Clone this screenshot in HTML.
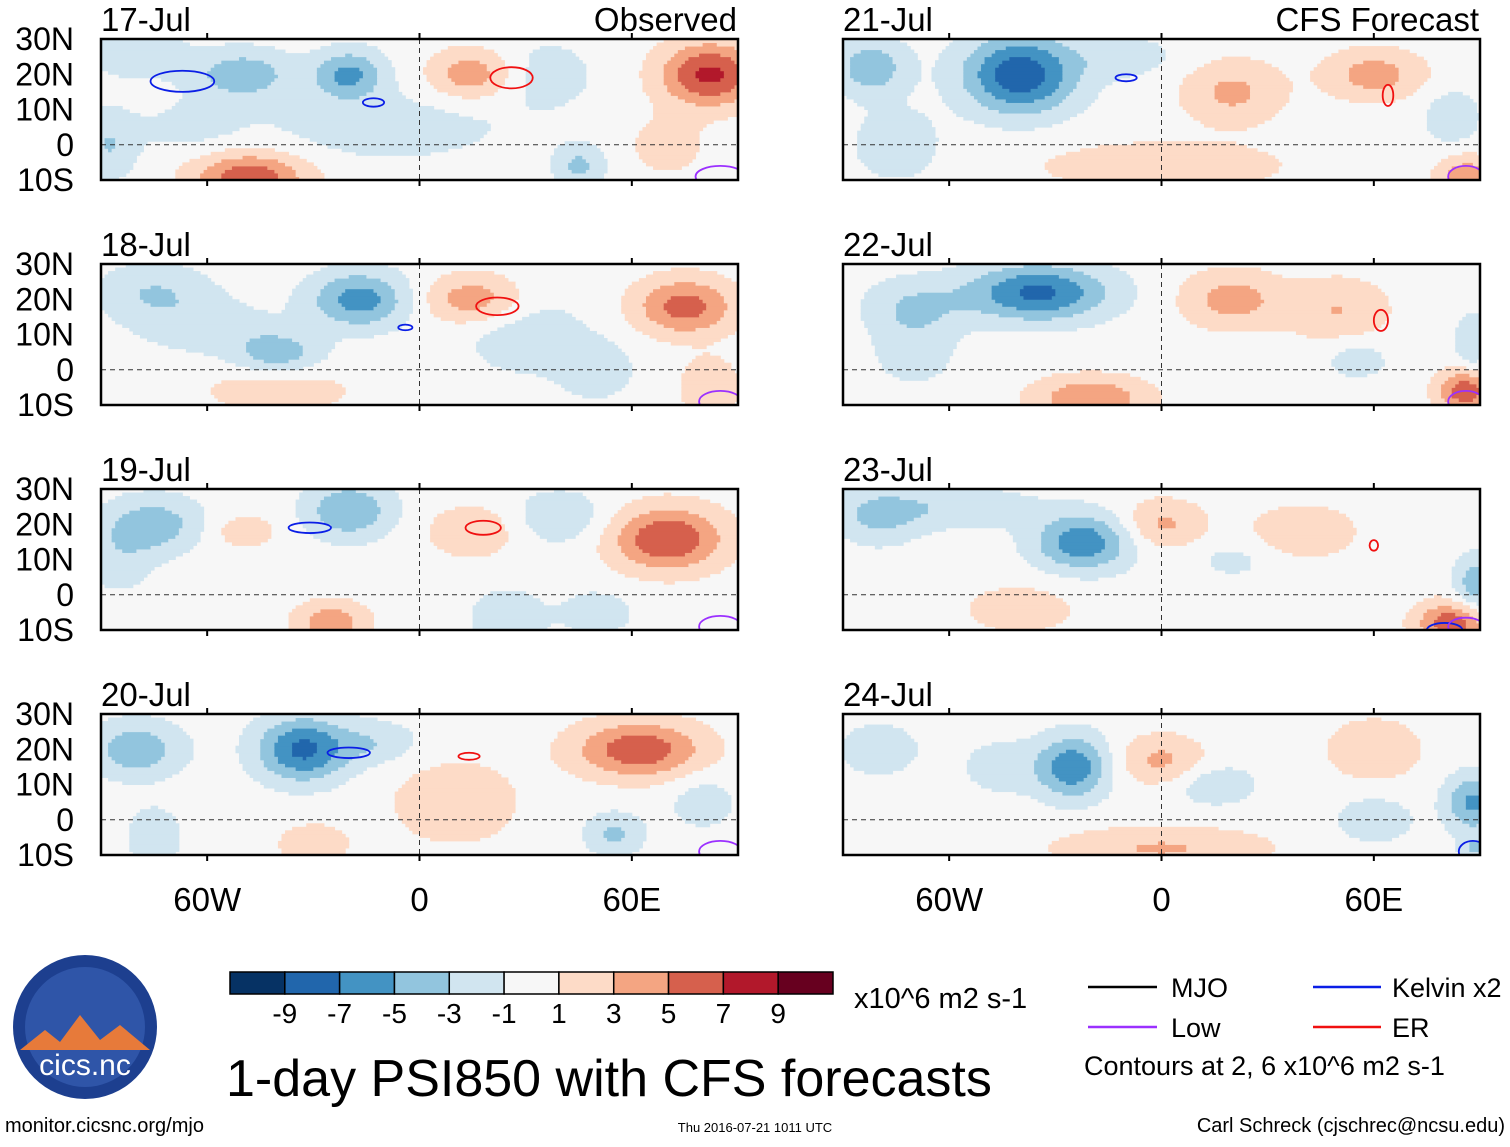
<!DOCTYPE html>
<html><head><meta charset="utf-8">
<style>
body{margin:0;background:#fff;}
svg text{font-family:"Liberation Sans",sans-serif;fill:#000;}
</style></head>
<body>
<svg id="fig" width="1510" height="1142" viewBox="0 0 1510 1142" xmlns="http://www.w3.org/2000/svg">
<defs>
<clipPath id="c0"><rect x="101" y="39" width="637" height="141"/></clipPath>
<clipPath id="c1"><rect x="101" y="264" width="637" height="141"/></clipPath>
<clipPath id="c2"><rect x="101" y="489" width="637" height="141"/></clipPath>
<clipPath id="c3"><rect x="101" y="714" width="637" height="141"/></clipPath>
<clipPath id="c4"><rect x="843" y="39" width="637" height="141"/></clipPath>
<clipPath id="c5"><rect x="843" y="264" width="637" height="141"/></clipPath>
<clipPath id="c6"><rect x="843" y="489" width="637" height="141"/></clipPath>
<clipPath id="c7"><rect x="843" y="714" width="637" height="141"/></clipPath>
</defs>
<g id="panels"></g>
<g id="labels"></g>
<g id="cbar"></g>
<g>
<text x="101" y="31" font-size="33">17-Jul</text>
<text x="737" y="31" font-size="33" text-anchor="end">Observed</text>
<text x="843" y="31" font-size="33">21-Jul</text>
<text x="1479" y="31" font-size="33" text-anchor="end">CFS Forecast</text>
<text x="101" y="256" font-size="33">18-Jul</text>
<text x="843" y="256" font-size="33">22-Jul</text>
<text x="101" y="481" font-size="33">19-Jul</text>
<text x="843" y="481" font-size="33">23-Jul</text>
<text x="101" y="706" font-size="33">20-Jul</text>
<text x="843" y="706" font-size="33">24-Jul</text>
<text x="854" y="1008" font-size="29">x10^6 m2 s-1</text>
<text x="226" y="1096" font-size="52">1-day PSI850 with CFS forecasts</text>
<text x="5" y="1132" font-size="20">monitor.cicsnc.org/mjo</text>
<text x="755" y="1132" font-size="13" text-anchor="middle">Thu 2016-07-21 1011 UTC</text>
<text x="1505" y="1132" font-size="20" text-anchor="end">Carl Schreck (cjschrec@ncsu.edu)</text>
</g>
<g>
<line x1="1088" y1="987" x2="1157" y2="987" stroke="#000" stroke-width="2.5"/>
<text x="1171" y="997" font-size="27">MJO</text>
<line x1="1313" y1="987" x2="1381" y2="987" stroke="#0a1ee6" stroke-width="2.5"/>
<text x="1392" y="997" font-size="27">Kelvin x2</text>
<line x1="1088" y1="1027" x2="1157" y2="1027" stroke="#9b30ff" stroke-width="2.5"/>
<text x="1171" y="1037" font-size="27">Low</text>
<line x1="1313" y1="1027" x2="1381" y2="1027" stroke="#f01010" stroke-width="2.5"/>
<text x="1392" y="1037" font-size="27">ER</text>
<text x="1084" y="1075" font-size="27">Contours at 2, 6 x10^6 m2 s-1</text>
</g>
<g>
<circle cx="85" cy="1027" r="72" fill="#1d3f8f"/>
<circle cx="85" cy="1027" r="60" fill="#2f55a8"/>
<path d="M20 1050 L45 1030 L60 1042 L80 1015 L100 1040 L120 1025 L150 1050 Z" fill="#e77a3a"/>
<text x="85" y="1075" font-size="30" text-anchor="middle" style="fill:#fff">cics.nc</text>
</g>
</svg>
<script>
const dates=['17-Jul','18-Jul','19-Jul','20-Jul','21-Jul','22-Jul','23-Jul','24-Jul'];
const levels=[-9,-7,-5,-3,-1,1,3,5,7,9];
const levelLabels=['-9','-7','-5','-3','-1','1','3','5','7','9'];
const colors=['#063264','#2166ac','#4393c3','#92c5de','#d1e5f0','#f7f7f7','#fddbc7','#f4a582','#d6604d','#b2182b','#67001f'];
const lonTicks=[-60,0,60];
const lonTickLabels=['60W','0','60E'];
const latTicks=[30,20,10,0,-10];
const latTickLabels=['30N','20N','10N','0','10S'];
// blobs: [lon, lat, halfwidth lon, halfwidth lat, amplitude]
const blobs17=[[-50,20,14,7,-4.5],[-20,20,10,7,-5.5],[15,20,12,7,4.5],[82,20,14,9,7.5],[-48,-9,16,7,6.5],[45,-6,7,6,-3.5],[-88,0,8,10,-3],[-10,5,35,10,-2],[70,0,10,8,2.2],[-80,26,14,7,-2.5],[-65,5,15,8,-1.5],[35,20,15,10,-2]];
const blobs18=[[-17,20,14,8,-6],[-40,5,12,6,-4],[-75,22,16,8,-3],[15,20,14,7,4.5],[75,18,14,8,6],[50,0,10,8,-2.5],[-40,-6,20,6,2.5],[82,-5,8,8,3],[30,10,18,12,-2.2],[-60,12,20,8,-2]];
const blobs19=[[-20,24,12,8,-5],[-75,20,14,8,-4.2],[70,16,16,9,7],[-25,-8,10,6,4.5],[15,18,12,7,3],[25,-7,10,8,-3],[50,-5,10,6,-2.5],[-50,18,10,5,2.2],[40,22,14,8,-2.5],[-85,10,10,10,-2]];
const blobs20=[[-33,20,13,9,-7.5],[-80,20,13,8,-4.5],[62,20,18,8,6.5],[10,5,18,12,2.5],[55,-4,8,6,-3.5],[-75,-5,7,8,-3],[-30,-7,10,6,2.5],[-12,22,12,6,-2.5],[80,5,10,8,-2]];
const blobs21=[[-40,20,16,11,-8.5],[-82,22,10,8,-4.5],[60,20,14,7,4],[20,15,14,9,3.5],[0,-6,35,7,2.5],[82,8,8,8,-2.5],[86,-9,8,6,4.5],[-75,0,12,10,-2.5],[-10,25,15,6,-2]];
const blobs22=[[-35,22,20,8,-7.5],[20,20,14,8,4],[50,17,14,9,3],[-20,-8,16,6,5],[86,-6,8,6,6.5],[55,3,10,6,-2],[-70,18,14,8,-3],[-70,5,12,10,-2],[88,8,5,8,-3]];
const blobs23=[[-22,15,14,8,-6.5],[-80,22,12,8,-3],[0,20,12,7,3.5],[40,18,14,7,3],[82,-8,10,6,6.5],[89,3,6,8,-4.5],[-40,-4,16,7,2.2],[-60,25,25,6,-2.5],[20,10,12,6,-1.5]];
const blobs24=[[-25,15,10,9,-6.5],[0,17,12,7,3.5],[15,10,12,6,-2.5],[0,-8,30,6,3.2],[88,5,8,8,-5.5],[60,20,14,9,2.5],[-80,20,12,8,-2.2],[60,0,10,6,-3],[89,-8,5,4,-3],[-45,15,12,8,-2]];
const panelBlobs=[blobs17,blobs18,blobs19,blobs20,blobs21,blobs22,blobs23,blobs24];
// contours: [lon, lat, rlon, rlat, type]
const contours=[
 [[-67,18,9,3,'k'],[-13,12,3,1.2,'k'],[26,19,6,3,'e'],[85,-9,7,3,'l']],
 [[-4,12,2,0.8,'k'],[22,18,6,2.5,'e'],[85,-9,6,3,'l']],
 [[-31,19,6,1.5,'k'],[18,19,5,2,'e'],[85,-9,6,3,'l']],
 [[-20,19,6,1.5,'k'],[14,18,3,1,'e'],[85,-9,6,3,'l']],
 [[-10,19,3,1,'k'],[64,14,1.5,3,'e'],[86,-9,5,3,'l']],
 [[62,14,2,3,'e'],[86,-9,5,3,'l']],
 [[60,14,1.2,1.5,'e'],[80,-10,5,2,'k'],[86,-9,5,2.5,'l']],
 [[88,-9,4,3,'k']]
];
const ctColors={k:'#0a1ee6',e:'#f01010',l:'#9b30ff'};
const colX=[101,843], rowY=[39,264,489,714], W=637, H=141;
const NS='http://www.w3.org/2000/svg';
function mk(t,a,p){const e=document.createElementNS(NS,t);for(const k in a)e.setAttribute(k,a[k]);p.appendChild(e);return e;}
function xScale(p,lon){return colX[Math.floor(p/4)]+(lon+90)/180*W;}
function yScale(p,lat){return rowY[p%4]+(30-lat)/40*H;}
function field(b,lon,lat){let v=0;for(const q of b){const dx=(lon-q[0])/q[2],dy=(lat-q[1])/q[3];v+=q[4]*Math.exp(-(dx*dx+dy*dy));}return v;}
function colorFor(v){let i=0;while(i<levels.length&&v>=levels[i])i++;return colors[i];}
const gP=document.getElementById('panels');
for(let p=0;p<8;p++){
 const g=mk('g',{'clip-path':'url(#c'+p+')'},gP);
 
 
 mk('rect',{x:xScale(p,-90),y:yScale(p,30),width:W,height:H,fill:'#f7f7f7'},g);
 const step=1;
 for(let lat=-10;lat<30;lat+=step){
  let run=null,x0=0;
  for(let lon=-90;lon<=90;lon+=step){
   const c=lon<90?colorFor(field(panelBlobs[p],lon+step/2,lat+step/2)):null;
   if(c!==run){
    if(run&&run!=='#f7f7f7'){const y0=yScale(p,lat+step),y1=yScale(p,lat);mk('rect',{x:x0,y:y0,width:xScale(p,lon)-x0+0.5,height:y1-y0+0.5,fill:run},g);}
    run=c;x0=xScale(p,lon);
   }
  }
 }
 const eq=mk('line',{x1:xScale(p,-90),x2:xScale(p,90),y1:yScale(p,0),y2:yScale(p,0),stroke:'#333','stroke-dasharray':'5,4','stroke-width':1},g);
 
 
 const pm=mk('line',{x1:xScale(p,0),x2:xScale(p,0),y1:yScale(p,30),y2:yScale(p,-10),stroke:'#333','stroke-dasharray':'5,4','stroke-width':1},g);
 
 
 for(const c of contours[p]){
  const e=mk('ellipse',{cx:xScale(p,c[0]),cy:yScale(p,c[1]),rx:c[2]*W/180,ry:c[3]*H/40,fill:'none',stroke:ctColors[c[4]],'stroke-width':1.8},g);
  
  
 }
 const fr=mk('rect',{x:xScale(p,-90),y:yScale(p,30),width:W,height:H,fill:'none',stroke:'#000','stroke-width':2.5},gP);
 
 
 for(const t of lonTicks){
  mk('line',{x1:xScale(p,t),x2:xScale(p,t),y1:yScale(p,-10),y2:yScale(p,-10)+6,stroke:'#000','stroke-width':2},gP);
  mk('line',{x1:xScale(p,t),x2:xScale(p,t),y1:yScale(p,30),y2:yScale(p,30)-6,stroke:'#000','stroke-width':2},gP);
 }
}
const gL=document.getElementById('labels');
for(let r=0;r<4;r++){latTicks.forEach((t,i)=>{
 const tx=mk('text',{x:74,y:yScale(r,t)+11,'font-size':32,'text-anchor':'end'},gL);
 tx.textContent=latTickLabels[i];
 
 
});}
for(const c of [0,4]){lonTicks.forEach((t,i)=>{
 const tx=mk('text',{x:xScale(c,t),y:911,'font-size':33,'text-anchor':'middle'},gL);
 tx.textContent=lonTickLabels[i];
 
 
});}
const gC=document.getElementById('cbar');
const cx0=230,cw=603/colors.length;
colors.forEach((c,i)=>{
 const r=mk('rect',{x:cx0+i*cw,y:972,width:cw,height:22,fill:c,stroke:'#000','stroke-width':1.5},gC);
 
 
});
levelLabels.forEach((l,i)=>{
 const tx=mk('text',{x:cx0+(i+1)*cw,y:1023,'font-size':28,'text-anchor':'middle'},gC);
 tx.textContent=l;
 
 
});
</script>
</body></html>
